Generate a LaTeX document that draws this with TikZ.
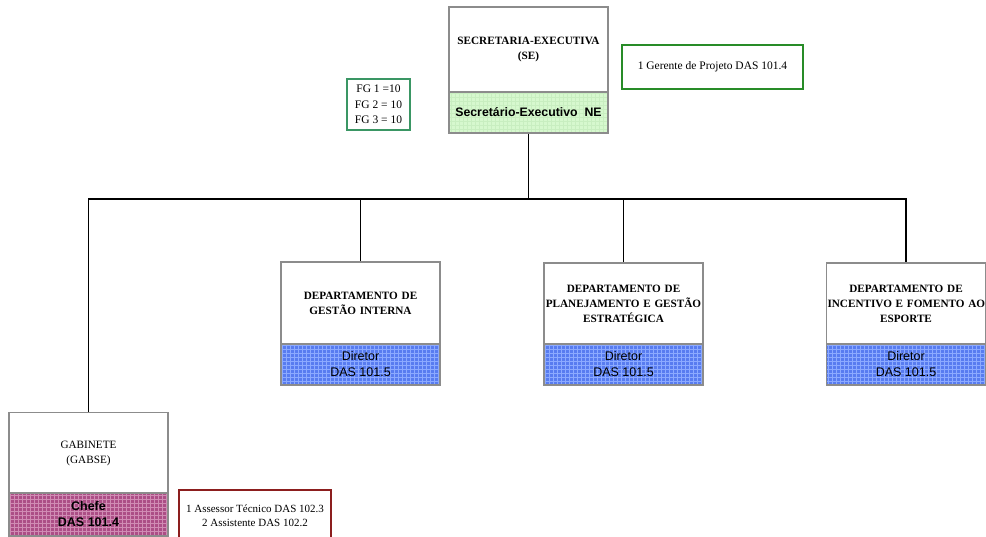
\documentclass[tikz,border=0pt]{standalone}
\usepackage{fontspec}
\setmainfont{Liberation Serif}
\newfontfamily\arialf{Liberation Sans}
\definecolor{boxgray}{RGB}{140,140,140}
\definecolor{lgreen}{RGB}{214,248,206}
\definecolor{lgreengrid}{RGB}{200,238,192}
\definecolor{dblue}{RGB}{88,124,240}
\definecolor{dbluegrid}{RGB}{140,170,255}
\definecolor{dpink}{RGB}{172,78,134}
\definecolor{dpinkgrid}{RGB}{208,140,180}
\definecolor{fggreen}{RGB}{58,150,100}
\definecolor{gergreen}{RGB}{40,140,40}
\definecolor{dred}{RGB}{140,30,30}
\tikzset{
  unitbox/.style={draw=boxgray, line width=1.3pt, fill=white, minimum width=159pt, inner sep=1pt, align=center,
    font=\fontsize{11.2}{15}\selectfont\bfseries, text width=157pt},
  gridded/.style 2 args={draw=boxgray, line width=1.3pt, fill=#1, minimum width=159pt, minimum height=41pt, inner sep=1pt, align=center,
    path picture={\draw[#2, line width=0.45pt] (path picture bounding box.south west) grid[step=4pt] (path picture bounding box.north east);}},
  bluebox/.style={gridded={dblue}{dbluegrid}, font=\arialf\fontsize{12.5}{16}\selectfont},
  note/.style={draw, line width=1.2pt, fill=white, align=center, inner sep=0pt},
  conn/.style={draw=black, line width=1.4pt}
}
\begin{document}
\begin{tikzpicture}[x=1pt,y=-1pt]
\useasboundingbox (0,0) rectangle (986,536);
% top
\node[unitbox, minimum height=85pt] (se) at (528.5,49.5) {SECRETARIA-EXECUTIVA\\(SE)};
\node[gridded={lgreen}{lgreengrid}, font=\arialf\fontsize{12.3}{14}\selectfont\bfseries] (sen) at (528.5,112.5) {Secret\'ario-Executivo~~NE};
\node[note, draw=fggreen, minimum width=63pt, minimum height=51pt, font=\fontsize{11.5}{15.5}\selectfont] (fg) at (378.5,104.5) {FG 1 =10\\FG 2 = 10\\FG 3 = 10};
\node[note, draw=gergreen, minimum width=181pt, minimum height=44pt, font=\fontsize{11.5}{14}\selectfont] (ger) at (712.5,67) {1 Gerente de Projeto DAS 101.4};
% departments
\node[unitbox, minimum height=82pt] (dgi) at (360.5,303) {DEPARTAMENTO DE\\GEST\~AO INTERNA};
\node[bluebox] (dgid) at (360.5,364.5) {Diretor\\DAS 101.5};
\node[unitbox, minimum height=82pt] (dpe) at (623.5,304) {DEPARTAMENTO DE\\\mbox{PLANEJAMENTO E GEST\~AO}\\ESTRAT\'EGICA};
\node[bluebox] (dped) at (623.5,364.5) {Diretor\\DAS 101.5};
\node[unitbox, minimum height=82pt] (dif) at (906,304) {DEPARTAMENTO DE\\\mbox{INCENTIVO E FOMENTO AO}\\ESPORTE};
\node[bluebox] (difd) at (906,364.5) {Diretor\\DAS 101.5};
% gabinete
\node[unitbox, minimum height=81pt, font=\fontsize{11.2}{15}\selectfont] (gab) at (88.5,453) {GABINETE\\(GABSE)};
\node[gridded={dpink}{dpinkgrid}, minimum height=43pt, font=\arialf\fontsize{12.5}{16}\selectfont\bfseries] (gabc) at (88.5,514.5) {Chefe\\DAS 101.4};
\node[note, draw=dred, minimum width=152pt, minimum height=52pt, font=\fontsize{11}{14}\selectfont] (ass) at (255,516) {1 Assessor T\'ecnico DAS 102.3\\2 Assistente DAS 102.2};
% connectors
\coordinate (j) at (528.5,199);
\draw[conn] (sen.south) -- (j);
\draw[conn] (j) -| (gab.north);
\draw[conn] (j) -| (dgi.north);
\draw[conn] (j) -| (dpe.north);
\draw[conn] (j) -| (dif.north);
\end{tikzpicture}
\end{document}
